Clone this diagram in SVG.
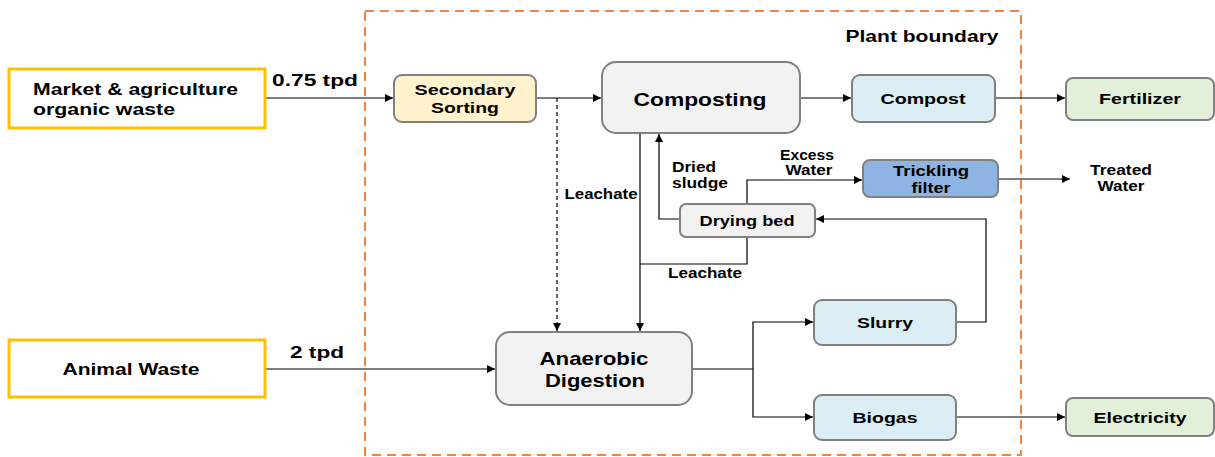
<svg xmlns="http://www.w3.org/2000/svg" width="1215" height="457" viewBox="0 0 1215 457">
<defs>
<marker id="arr" viewBox="0 0 10 10" refX="10" refY="5" markerWidth="9" markerHeight="8" markerUnits="userSpaceOnUse" orient="auto">
<path d="M0,0 L10,5 L0,10 z" fill="#000"/>
</marker>
</defs>
<style>
text{font-family:"Liberation Sans",Arial,sans-serif;font-weight:bold;fill:#000;text-anchor:middle}
.src{fill:#fff;stroke:#FFC000;stroke-width:3}
.box{stroke:#808080;stroke-width:2}
.grey{fill:#F2F2F2}
.yel{fill:#FFF2CC}
.blue{fill:#DAEEF3}
.green{fill:#E2F0D9}
.dblue{fill:#8EB4E3}
.c{fill:none;stroke:#000;stroke-width:1.2}
.ca{fill:none;stroke:#000;stroke-width:1.2;marker-end:url(#arr)}
.dash{stroke-dasharray:4,3}
.lbl{font-size:14px}
.big{font-size:19px}
.med{font-size:15px}
</style>
<rect id="boundary" x="365" y="11" width="656" height="444" fill="none" stroke="#F4853A" stroke-width="2" stroke-dasharray="9,6"/>
<text x="922" y="42" style="font-size:16px" textLength="153" lengthAdjust="spacingAndGlyphs">Plant boundary</text>

<g id="connectors">
<path class="ca" d="M265,98 H393"/>
<path class="ca" d="M536,98 H601"/>
<path class="ca dash" d="M557,98 V331"/>
<path class="ca" d="M800,98 H851"/>
<path class="ca" d="M995,98 H1065"/>
<path class="ca" d="M640,133 V331"/>
<path class="ca" d="M680,219 H659 V134"/>
<path class="ca" d="M747,204 V180 H862"/>
<path class="ca" d="M998,179 H1070"/>
<path class="c" d="M747,237 V264 H640"/>
<path class="ca" d="M956,322 H986 V219 H816"/>
<path class="ca" d="M265,369 H495"/>
<path class="c" d="M692,369 H753"/>
<path class="ca" d="M753,369 V322 H813"/>
<path class="ca" d="M753,369 V417 H813"/>
<path class="ca" d="M956,417 H1065"/>
</g>

<text x="315" y="86" style="font-size:17px" textLength="86" lengthAdjust="spacingAndGlyphs">0.75 tpd</text>
<text x="317" y="358" style="font-size:17px" textLength="54" lengthAdjust="spacingAndGlyphs">2 tpd</text>
<text x="601" y="199" class="lbl" textLength="73" lengthAdjust="spacingAndGlyphs">Leachate</text>
<text x="672" y="172" class="lbl" style="text-anchor:start" textLength="44" lengthAdjust="spacingAndGlyphs">Dried</text>
<text x="672" y="188" class="lbl" style="text-anchor:start" textLength="56" lengthAdjust="spacingAndGlyphs">sludge</text>
<text x="807" y="160" class="lbl" textLength="54" lengthAdjust="spacingAndGlyphs">Excess</text>
<text x="809" y="175" class="lbl" textLength="47" lengthAdjust="spacingAndGlyphs">Water</text>
<text x="705" y="278" class="lbl" textLength="74" lengthAdjust="spacingAndGlyphs">Leachate</text>
<text x="1121" y="175" class="lbl" textLength="62" lengthAdjust="spacingAndGlyphs">Treated</text>
<text x="1121" y="191" class="lbl" textLength="47" lengthAdjust="spacingAndGlyphs">Water</text>

<g id="market">
<rect class="src" x="9" y="69" width="256" height="59"/>
<text x="33" y="95" style="font-size:17px;text-anchor:start" textLength="205" lengthAdjust="spacingAndGlyphs">Market &amp; agriculture</text>
<text x="33" y="115" style="font-size:17px;text-anchor:start" textLength="142" lengthAdjust="spacingAndGlyphs">organic waste</text>
</g>
<g id="animal">
<rect class="src" x="9" y="340" width="256" height="57"/>
<text x="131" y="375" style="font-size:16px" textLength="137" lengthAdjust="spacingAndGlyphs">Animal Waste</text>
</g>
<g id="sorting">
<rect class="box yel" x="394" y="75" width="142" height="47" rx="8"/>
<text x="465" y="95" class="med" textLength="101" lengthAdjust="spacingAndGlyphs">Secondary</text>
<text x="465" y="113" class="med" textLength="68" lengthAdjust="spacingAndGlyphs">Sorting</text>
</g>
<g id="composting">
<rect class="box grey" x="602" y="62" width="198" height="71" rx="14"/>
<text x="700" y="106" class="big" textLength="133" lengthAdjust="spacingAndGlyphs">Composting</text>
</g>
<g id="compost">
<rect class="box blue" x="852" y="75" width="143" height="47" rx="8"/>
<text x="923" y="104" class="med" textLength="85" lengthAdjust="spacingAndGlyphs">Compost</text>
</g>
<g id="fertilizer">
<rect class="box green" x="1066" y="78" width="148" height="42" rx="7"/>
<text x="1140" y="104" class="med" textLength="82" lengthAdjust="spacingAndGlyphs">Fertilizer</text>
</g>
<g id="drying">
<rect class="box grey" x="680" y="204" width="135" height="33" rx="6"/>
<text x="747" y="226" class="lbl" textLength="95" lengthAdjust="spacingAndGlyphs">Drying bed</text>
</g>
<g id="trickling">
<rect class="box dblue" x="863" y="160" width="135" height="37" rx="7"/>
<text x="931" y="176" class="lbl" textLength="76" lengthAdjust="spacingAndGlyphs">Trickling</text>
<text x="931" y="193" class="lbl" textLength="39" lengthAdjust="spacingAndGlyphs">filter</text>
</g>
<g id="anaerobic">
<rect class="box grey" x="496" y="332" width="196" height="73" rx="14"/>
<text x="594" y="365" class="big" textLength="109" lengthAdjust="spacingAndGlyphs">Anaerobic</text>
<text x="595" y="387" class="big" textLength="100" lengthAdjust="spacingAndGlyphs">Digestion</text>
</g>
<g id="slurry">
<rect class="box blue" x="814" y="300" width="142" height="45" rx="8"/>
<text x="885" y="328" class="med" textLength="56" lengthAdjust="spacingAndGlyphs">Slurry</text>
</g>
<g id="biogas">
<rect class="box blue" x="814" y="395" width="142" height="45" rx="8"/>
<text x="885" y="423" class="med" textLength="65" lengthAdjust="spacingAndGlyphs">Biogas</text>
</g>
<g id="electricity">
<rect class="box green" x="1066" y="398" width="148" height="38" rx="7"/>
<text x="1140" y="423" class="med" textLength="93" lengthAdjust="spacingAndGlyphs">Electricity</text>
</g>
</svg>
